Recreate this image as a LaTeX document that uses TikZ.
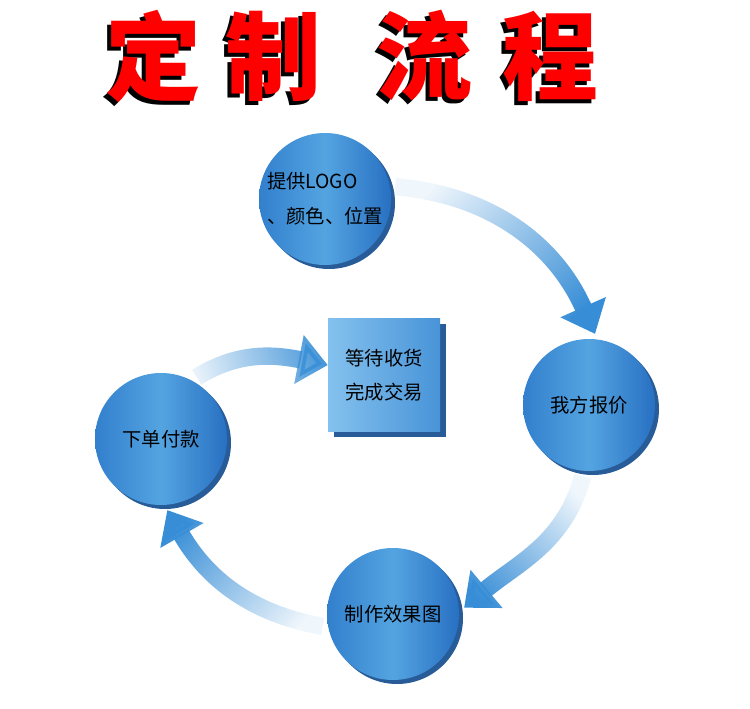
\documentclass[tikz,border=0pt]{standalone}
\usepackage{fontspec}
\usetikzlibrary{arrows.meta,fadings,backgrounds}
\newfontfamily\cjk{Noto Sans CJK SC}
\definecolor{flowlight}{RGB}{84,164,225}
\definecolor{flowblue}{RGB}{50,128,205}
\definecolor{flowdeep}{RGB}{40,112,194}
\definecolor{flowrim}{RGB}{40,92,152}
\definecolor{flowarrow}{RGB}{56,142,214}
\definecolor{boxlight}{RGB}{132,193,238}
\definecolor{boxblue}{RGB}{72,148,216}
\tikzfading[name=arrowfade,left color=transparent!92,right color=transparent!0]
% red glyph over a black copy set down and to the left
\newcommand\shadowchar[1]{\rlap{\kern-2.3pt\raisebox{-3pt}{\color{black}#1}}{\color{red}#1}}

\begin{document}
\begin{tikzpicture}[x=.75pt,y=-.75pt,line cap=round,
  stepcircle/.style={circle,minimum size=99pt,inner sep=0pt,outer sep=4pt,
    left color=flowblue,right color=flowdeep,middle color=flowlight,
    preaction={fill=flowrim,transform canvas={shift={(3pt,-3pt)}}},
    font=\cjk\fontsize{14.5}{26}\selectfont,align=left},
  stepbox/.style={rectangle,minimum width=84pt,minimum height=85pt,inner sep=0pt,
    left color=boxlight,right color=boxblue,
    preaction={fill=flowrim,transform canvas={shift={(4.5pt,-4pt)}}},
    font=\cjk\fontsize{14.5}{25.5}\selectfont,align=center},
  flowstep/.style={draw=flowarrow,line width=13pt,line cap=butt,
    -{Triangle[length=22pt,width=36pt]},path fading=arrowfade},
  titlechar/.style={font=\cjk\bfseries\fontsize{72}{72}\selectfont,inner sep=0pt}]
 \useasboundingbox (0,0) rectangle (750,709);
 % title
 \foreach \ch/\x [count=\i] in {定/153,制/273,流/424,程/550}{
   \node[titlechar] (title\i) at (\x,58) {\shadowchar{\ch}};
 }
 % steps
 \node[stepcircle] (logo) at (325,199) {提供LOGO\\、颜色、位置};
 \node[stepcircle] (quote) at (589,405) {我方报价};
 \node[stepcircle] (render) at (393,614) {制作效果图};
 \node[stepcircle] (order) at (161,439) {下单付款};
 \node[stepbox] (done) at (384,375) {等待收货\\完成交易};
 % arrows behind the steps
 \begin{pgfonlayer}{background}
  \draw[flowstep,fading angle=-38] (logo.10) to[out=-5,in=114] (quote.85);
  \draw[flowstep,fading angle=227] (quote.265) to[out=-105,in=40] (render.5);
  \draw[flowstep,fading angle=145] (render.190) to[out=170,in=-60] (order.275);
  \draw[flowstep,fading angle=5] (order.60) to[out=32,in=169] (done.170);
 \end{pgfonlayer}
\end{tikzpicture}
\end{document}
